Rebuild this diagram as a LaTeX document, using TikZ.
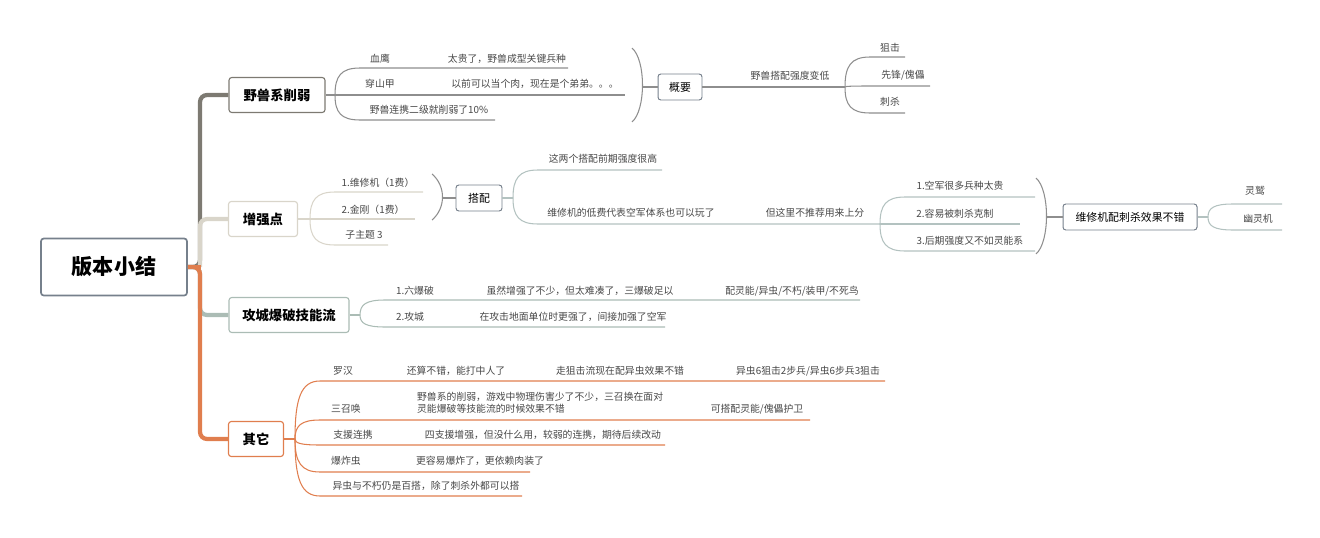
\documentclass[tikz,border=0pt]{standalone}
\usepackage{fontspec}
\setmainfont{Noto Sans CJK SC}
\definecolor{beastgray}{HTML}{7D7A72}
\definecolor{buffbeige}{HTML}{D9D5CA}
\definecolor{siegegreen}{HTML}{ABBCB5}
\definecolor{otherorange}{HTML}{E07E4E}
\definecolor{boxblue}{HTML}{76808C}
\definecolor{twiggray}{HTML}{8E8E8E}
\definecolor{twigteal}{HTML}{B3C2C0}
\tikzset{
  rootbox/.style={draw=boxblue, line width=2.4pt, rounded corners=4pt, fill=white,
    minimum width=7.3cm, minimum height=2.85cm, font=\fontsize{30}{34}\selectfont\bfseries},
  topicbox/.style={draw=#1, line width=1.6pt, rounded corners=4pt, fill=white,
    minimum height=1.75cm, inner xsep=6pt, font=\fontsize{19}{22}\selectfont\bfseries},
  sumbox/.style={draw=boxblue, line width=1.4pt, rounded corners=4pt, fill=white,
    minimum height=1.3cm, inner xsep=5pt, font=\fontsize{15.5}{18}\selectfont},
  leaf/.style={font=\fontsize{14}{17}\selectfont, text=black!72, inner sep=0pt},
  trunk/.style={line width=6pt, rounded corners=10pt},
  twig/.style={line width=1.5pt}
}
% curved twig from a fork point to an underline
\newcommand{\twig}[5]{\draw[twig,#1] (#2,#3) .. controls (#2,#3*0.3+#4*0.7) and (#2+6,#4) .. (#2+25,#4) -- (#5,#4);}
\newcommand{\paren}[4]{\draw[twig,#1] (#2,#3) .. controls (#2+14,#3+12) and (#2+14,#4-12) .. (#2,#4);}
\begin{document}
\begin{tikzpicture}[x=0.05cm, y=-0.05cm]
  \useasboundingbox (0,0) rectangle (1320,538);

  % main topics
  \node[rootbox] (root) at (114,267) {版本小结};
  \node[topicbox=beastgray, minimum width=4.8cm] (beast) at (277,95) {野兽系削弱};
  \node[topicbox=buffbeige, minimum width=3.45cm] (buff) at (263,219) {增强点};
  \node[topicbox=siegegreen, minimum width=6cm] (siege) at (289,315) {攻城爆破技能流};
  \node[topicbox=otherorange, minimum width=2.75cm] (other) at (256,439) {其它};

  % trunk
  \draw[trunk, siegegreen] (root.east) -- (200,267) |- (siege.west);
  \draw[trunk, otherorange] (root.east) -- (200,267) |- (other.west);
  \draw[trunk, beastgray] (root.east) -- (200,267) |- (beast.west);
  \draw[trunk, buffbeige] (200,267) |- (buff.west);
  \draw[line width=6pt, otherorange] (root.east) -- (201,267);

  % beast branch
  \draw[twig, twiggray] (beast.east) -- (335,95);
  \twig{twiggray}{335}{95}{68}{568}
  \twig{twiggray}{335}{95}{95}{625}
  \twig{twiggray}{335}{95}{120}{495}
  \node[leaf] (bl1) at (380,59) {血鹰};
  \node[leaf] (bl1b) at (507,59) {太贵了，野兽成型关键兵种};
  \node[leaf] (bl2) at (380,84) {穿山甲};
  \node[leaf] (bl2b) at (535,84) {以前可以当个肉，现在是个弟弟。。。};
  \node[leaf] (bl3) at (429,110) {野兽连携二级就削弱了10\%};
  \paren{twiggray}{632}{48}{122}
  \node[sumbox, minimum width=2.2cm] (bsum) at (680,87) {概要};
  \draw[twig, twiggray] (642,87) -- (bsum.west);
  \draw[twig, twiggray] (bsum.east) -- (845,87);
  \node[leaf] (bsumt) at (790,76) {野兽搭配强度变低};
  \twig{twiggray}{845}{87}{57}{905}
  \twig{twiggray}{845}{87}{86}{930}
  \twig{twiggray}{845}{87}{113}{905}
  \node[leaf] (bs1) at (890,48) {狙击};
  \node[leaf] (bs2) at (903,75) {先锋/傀儡};
  \node[leaf] (bs3) at (890,102) {刺杀};

  % buff branch
  \draw[twig, buffbeige] (buff.east) -- (310,219);
  \twig{buffbeige}{310}{219}{192}{423}
  \twig{buffbeige}{310}{219}{219}{415}
  \twig{buffbeige}{310}{219}{245}{388}
  \node[leaf] (u1) at (378,183) {1.维修机（1费）};
  \node[leaf] (u2) at (373,210) {2.金刚（1费）};
  \node[leaf] (u3) at (364,235) {子主题 3};
  \paren{twiggray}{432}{174}{220}
  \node[sumbox, minimum width=2.3cm] (pair) at (479,198) {搭配};
  \draw[twig, twiggray] (442,198) -- (pair.west);
  \draw[twig, twigteal] (pair.east) -- (513,198);
  \twig{twigteal}{513}{198}{170}{662}
  \twig{twigteal}{513}{198}{224}{880}
  \node[leaf] (p1) at (603,159) {这两个搭配前期强度很高};
  \node[leaf] (p2) at (631,213) {维修机的低费代表空军体系也可以玩了};
  \node[leaf] (p2b) at (815,213) {但这里不推荐用来上分};
  \twig{twigteal}{880}{224}{197}{1035}
  \twig{twigteal}{880}{224}{224}{1020}
  \twig{twigteal}{880}{224}{251}{1035}
  \node[leaf] (q1) at (960,186) {1.空军很多兵种太贵};
  \node[leaf] (q2) at (955,214) {2.容易被刺杀克制};
  \node[leaf] (q3) at (970,241) {3.后期强度又不如灵能系};
  \paren{twiggray}{1036}{178}{254}
  \node[sumbox, minimum width=6.7cm] (repair) at (1130,217) {维修机配刺杀效果不错};
  \draw[twig, twiggray] (1046,217) -- (repair.west);
  \draw[twig, twigteal] (repair.east) -- (1208,217);
  \twig{twigteal}{1208}{217}{204}{1282}
  \twig{twigteal}{1208}{217}{230}{1282}
  \node[leaf] (r1) at (1255,191) {灵鹫};
  \node[leaf] (r2) at (1258,219) {幽灵机};

  % siege branch
  \draw[twig, siegegreen] (siege.east) -- (360,315);
  \twig{siegegreen}{360}{315}{300}{860}
  \twig{siegegreen}{360}{315}{327}{665}
  \node[leaf] (s1) at (415,291) {1.六爆破};
  \node[leaf] (s1b) at (580,291) {虽然增强了不少，但太难凑了，三爆破足以};
  \node[leaf] (s1c) at (792,291) {配灵能/异虫/不朽/装甲/不死鸟};
  \node[leaf] (s2) at (410,317) {2.攻城};
  \node[leaf] (s2b) at (573,317) {在攻击地面单位时更强了，间接加强了空军};

  % other branch
  \draw[twig, otherorange] (other.east) -- (295,439);
  \twig{otherorange}{295}{439}{381}{885}
  \twig{otherorange}{295}{439}{420}{810}
  \twig{otherorange}{295}{439}{445}{665}
  \twig{otherorange}{295}{439}{472}{530}
  \twig{otherorange}{295}{439}{496}{522}
  \node[leaf] (o1) at (343,371) {罗汉};
  \node[leaf] (o1b) at (456,371) {还算不错，能打中人了};
  \node[leaf] (o1c) at (620,371) {走狙击流现在配异虫效果不错};
  \node[leaf] (o1d) at (808,371) {异虫6狙击2步兵/异虫6步兵3狙击};
  \node[leaf] (o2) at (346,409) {三召唤};
  \node[leaf, align=left, anchor=west] (o2b) at (417,403)
    {野兽系的削弱，游戏中物理伤害少了不少，三召换在面对\\灵能爆破等技能流的时候效果不错};
  \node[leaf] (o2c) at (757,409) {可搭配灵能/傀儡护卫};
  \node[leaf] (o3) at (353,435) {支援连携};
  \node[leaf] (o3b) at (543,435) {四支援增强，但没什么用，较弱的连携，期待后续改动};
  \node[leaf] (o4) at (346,461) {爆炸虫};
  \node[leaf] (o4b) at (480,461) {更容易爆炸了，更依赖肉装了};
  \node[leaf] (o5) at (426,486) {异虫与不朽仍是百搭，除了刺杀外都可以搭};
\end{tikzpicture}
\end{document}
